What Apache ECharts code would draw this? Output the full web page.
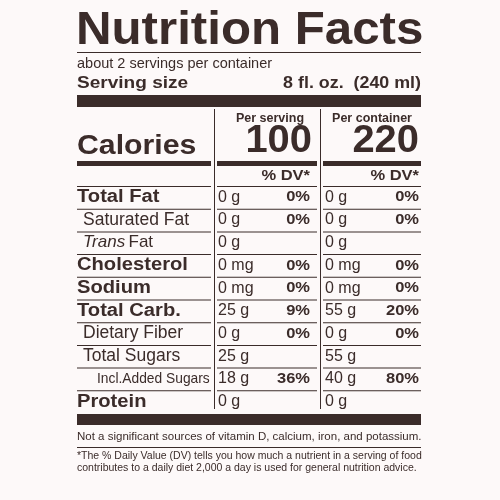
<!DOCTYPE html>
<html><head><meta charset="utf-8">
<script src="https://cdn.jsdelivr.net/npm/echarts@6/dist/echarts.min.js"></script>
<style>html,body{margin:0;padding:0;background:#fdf9f9}#c{width:500px;height:500px}</style>
</head><body><div id="c"></div>
<script>
const nutrients = ["Total Fat", "Saturated Fat", "Trans Fat", "Cholesterol", "Sodium", "Total Carb.", "Dietary Fiber", "Total Sugars", "Incl.Added Sugars", "Protein"];
const boldRow = [true, false, false, true, true, true, false, false, false, true];
const indentRow = [0, 1, 1, 0, 0, 0, 1, 1, 2, 0];
const servingAmt = ["0 g", "0 g", "0 g", "0 mg", "0 mg", "25 g", "0 g", "25 g", "18 g", "0 g"];
const servingDV = ["0%", "0%", "", "0%", "0%", "9%", "0%", "", "36%", ""];
const containerAmt = ["0 g", "0 g", "0 g", "0 mg", "0 mg", "55 g", "0 g", "55 g", "40 g", "0 g"];
const containerDV = ["0%", "0%", "", "0%", "0%", "20%", "0%", "", "80%", ""];
const calories = [100, 220];

const ink = "#3b2c2a";
const F = "Liberation Sans, Arial, sans-serif";
const L = 77, R = 421, C1 = 214, C2 = 320;
const g = [];
function txt(x, y, s, size, weight, align, extra, sx) {
  g.push({ type: "text", x, y, scaleX: sx || 1, style: Object.assign({ text: s, fill: ink, font: (weight || "normal") + " " + size + "px " + F, textAlign: align || "left", textVerticalAlign: "middle" }, extra || {}) });
}
function rect(x, y, w, h) { g.push({ type: "rect", shape: { x, y, width: w, height: h }, style: { fill: ink } }); }

txt(L - 1, 31, "Nutrition Facts", 46, "bold", "left", null, 1.07);
rect(L, 52, R - L, 1);
txt(L, 64, "about 2 servings per container", 14.5);
txt(L, 83, "Serving size", 17, "bold", "left", null, 1.12);
txt(R, 83, "8 fl. oz.  (240 ml)", 17, "bold", "right", null, 1.05);
rect(L, 95, R - L, 12);
rect(C1, 109, 1, 300); rect(C2, 109, 1, 300);
txt(C1 + 56, 119, "Per serving", 12.5, "bold", "center");
txt(C2 + 52, 119, "Per container", 12.5, "bold", "center");
txt(L, 146, "Calories", 28, "bold", "left", null, 1.08);
txt(C1 + 98, 142, String(calories[0]), 38, "bold", "right", null, 1.05);
txt(R - 2, 142, String(calories[1]), 38, "bold", "right", null, 1.05);
rect(L, 161, C1 - 3 - L, 5); rect(C1 + 3, 161, C2 - C1 - 6, 5); rect(C2 + 3, 161, R - C2 - 3, 5);
txt(C1 + 96, 176, "% DV*", 15, "bold", "right", null, 1.1);
txt(R - 2, 176, "% DV*", 15, "bold", "right", null, 1.1);
const top0 = 186, rh = 22.7;
nutrients.forEach((n, i) => {
  const y0 = top0 + i * rh, yc = y0 + rh / 2;
  rect(L, y0, C1 - 3 - L, 1); rect(C1 + 3, y0, C2 - C1 - 6, 1); rect(C2 + 3, y0, R - C2 - 3, 1);
  const x = L + [0, 6, 20][indentRow[i]];
  if (n === "Trans Fat") {
    g.push({ type: "text", x: x, y: yc, style: { rich: { i: { font: "italic 17px " + F, fill: ink }, n: { font: "17px " + F, fill: ink } }, text: "{i|Trans} {n|Fat}", textVerticalAlign: "middle" } });
  } else if (indentRow[i] === 2) {
    txt(x, yc, n, 15, "normal", "left", { font: "15px Liberation Sans Narrow, " + F }, 0.92);
  } else if (boldRow[i]) {
    txt(x, yc, n, 18, "bold", "left", null, 1.12);
  } else {
    txt(x, yc, n, 17.5, "normal");
  }
  txt(C1 + 4, yc, servingAmt[i], 16);
  if (servingDV[i]) txt(C1 + 96, yc, servingDV[i], 15, "bold", "right", null, 1.1);
  txt(C2 + 5, yc, containerAmt[i], 16);
  if (containerDV[i]) txt(R - 2, yc, containerDV[i], 15, "bold", "right", null, 1.1);
});
rect(L, top0 + 10 * rh + 1, R - L, 11);
txt(L, 437, "Not a significant sources of vitamin D, calcium, iron, and potassium.", 11.5, "normal", "left", { font: "11.5px Liberation Sans Narrow, " + F });
rect(L, 447, R - L, 1);
txt(L, 456, "*The % Daily Value (DV) tells you how much a nutrient in a serving of food", 10.5, "normal", "left", { font: "10.5px Liberation Sans Narrow, " + F });
txt(L, 468, "contributes to a daily diet 2,000 a day is used for general nutrition advice.", 10.5, "normal", "left", { font: "10.5px Liberation Sans Narrow, " + F });

const chart = echarts.init(document.getElementById("c"));
chart.setOption({ animation: false, backgroundColor: "#fdf9f9", graphic: g });
</script></body></html>
